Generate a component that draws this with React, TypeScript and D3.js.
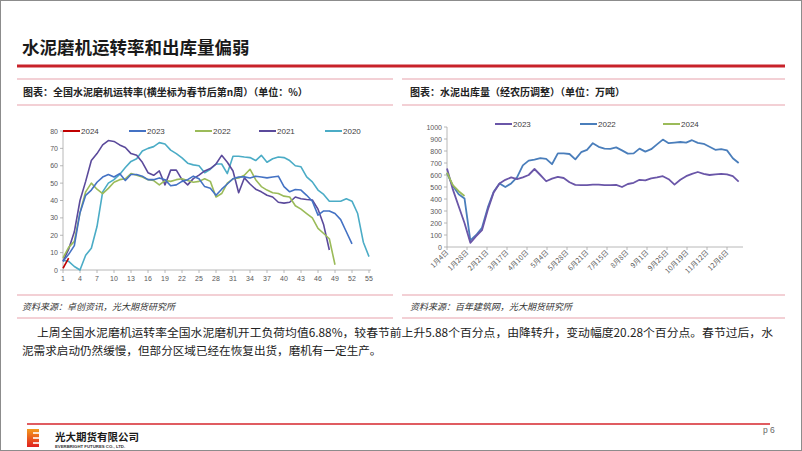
import React from "react";
import * as d3 from "d3";

// ---------- Left chart: cement mill operating rate (week n after Spring Festival) ----------
const rate2024 = [1.0, 6.88];
const rate2023 = [5, 9, 14, 33, 43, 46, 50.5, 53.5, 55, 53.5, 55.5, 51.5, 55, 55, 54, 52, 52, 53, 52, 48.5, 49, 51, 52, 54, 52.5, 48, 47, 43, 46.5, 49.5, 52.5, 53.5, 53.6, 53, 54, 53.5, 53, 53.5, 54, 48, 45, 46.3, 46, 43, 39.6, 31.6, 34, 34, 32.5, 29, 22, 15];
const rate2022 = [7, 13, 16.5, 33, 45, 50, 46.5, 44, 47, 50.5, 52, 52.5, 55.5, 54.5, 53.5, 52, 51.5, 49, 51.5, 51, 52, 52.5, 51.5, 50.5, 51, 52.5, 51, 42, 44, 50, 52.5, 53, 54.5, 58, 52, 48, 46, 44.5, 44, 42.5, 42, 37, 35, 32.5, 30, 24, 21, 18, 3];
const rate2021 = [5, 12, 22, 40, 51, 63, 67, 72, 74.5, 74, 72, 70.5, 67, 66, 62, 56, 54.5, 57, 49, 57.5, 57.5, 52, 49, 52.6, 54.6, 57, 58.4, 61, 66, 62, 57, 44.5, 53, 49.5, 46.5, 45, 43, 42, 39, 38.5, 39, 42, 41, 40.6, 40.3, 35, 26, 11.5];
const rate2020 = [5.5, 5, 2, 0, 8.5, 12.5, 25, 45, 50, 52, 55, 59, 62.5, 64, 68.5, 70, 71, 73.3, 72.5, 69, 67, 64.5, 61.5, 60.5, 60, 56, 58, 61, 61, 55.5, 65.5, 65.5, 65, 64.7, 63, 66, 62, 64, 65, 64.7, 63, 60, 59.4, 53.6, 50.7, 46, 43.5, 39.6, 39.6, 39.6, 41, 39.6, 32.5, 16, 7.7];
const leftYTicks = [0, 10, 20, 30, 40, 50, 60, 70, 80];
const leftXTicks = [1, 4, 7, 10, 13, 16, 19, 22, 25, 28, 31, 34, 37, 40, 43, 46, 49, 52, 55];
const leftSeriesNames = ["2024", "2023", "2022", "2021", "2020"];

// ---------- Right chart: cement shipments (lunar-calendar adjusted), weekly ----------
const ship2023 = [655, 480, 340, 200, 35, 90, 140, 310, 455, 530, 560, 580, 565, 580, 600, 650, 600, 548, 570, 585, 575, 540, 518, 515, 515, 520, 520, 515, 515, 518, 500, 525, 535, 560, 555, 572, 580, 590, 565, 520, 560, 590, 610, 625, 610, 600, 605, 610, 605, 590, 545];
const ship2022 = [615, 510, 440, 405, 55, 100, 160, 330, 460, 530, 500, 530, 580, 680, 720, 728, 740, 735, 690, 780, 780, 775, 730, 790, 810, 865, 835, 820, 818, 830, 805, 778, 780, 820, 795, 815, 855, 895, 865, 870, 875, 870, 890, 868, 860, 835, 810, 815, 805, 740, 700];
const ship2024 = [620, 515, 465, 425];
const rightYTicks = [0, 100, 200, 300, 400, 500, 600, 700, 800, 900, 1000];
const rightXLabels = ["1月4日", "1月28日", "2月21日", "3月17日", "4月10日", "5月4日", "5月28日", "6月21日", "7月15日", "8月8日", "9月1日", "9月25日", "10月19日", "11月12日", "12月6日"];
const rightSeriesNames = ["2023", "2022", "2024"];

const CJK = "'Noto Sans CJK SC', 'Noto Sans', sans-serif";
const LAT = "Arial, 'Liberation Sans', sans-serif";

export default function App() {
  // left scales
  const lx = d3.scaleLinear().domain([1, 55]).range([63, 369]);
  const ly = d3.scaleLinear().domain([0, 80]).range([270, 131]);
  const lline = d3.line<number>().x((_, i) => lx(i + 1)).y((d) => ly(d));
  const leftSeries = [
    { name: leftSeriesNames[4], data: rate2020, color: "#4bacc6", lx: 325 },
    { name: leftSeriesNames[3], data: rate2021, color: "#5b4a9b", lx: 259 },
    { name: leftSeriesNames[2], data: rate2022, color: "#9bbb59", lx: 195 },
    { name: leftSeriesNames[1], data: rate2023, color: "#4472c4", lx: 129 },
    { name: leftSeriesNames[0], data: rate2024, color: "#c00000", lx: 63 },
  ];

  // right scales (x in days, weekly points)
  const rx = d3.scaleLinear().domain([0, 24]).range([447, 467]);
  const ry = d3.scaleLinear().domain([0, 1000]).range([247, 127]);
  const rline = d3.line<number>().x((_, i) => rx(i * 7)).y((d) => ry(d));
  const rightSeries = [
    { name: rightSeriesNames[0], data: ship2023, color: "#6a56a8", lx: 495 },
    { name: rightSeriesNames[1], data: ship2022, color: "#4a7ebb", lx: 580 },
    { name: rightSeriesNames[2], data: ship2024, color: "#9bbb59", lx: 663 },
  ];

  const pink = "#e8a2ab";
  return (
    <div style={{ position: "absolute", left: 0, top: 0 }}>
      <svg width={802} height={451} xmlns="http://www.w3.org/2000/svg" style={{ display: "block" }}>
        <defs>
          <linearGradient id="logoG" x1="0" y1="0" x2="0" y2="1">
            <stop offset="0" stopColor="#f39a1e" />
            <stop offset="1" stopColor="#e0201f" />
          </linearGradient>
        </defs>
        <rect x={0} y={0} width={802} height={451} fill="#fff" />
        <rect x={0.5} y={0.5} width={801} height={450} fill="none" stroke="#8c8c8c" strokeWidth={1} />

        {/* title */}
        <text x={22} y={54} fontFamily={CJK} fontSize={17.5} fontWeight={700} fill="#1a1a1a">水泥磨机运转率和出库量偏弱</text>
        <line x1={17} x2={785} y1={66} y2={66} stroke="#c8222a" strokeWidth={3} />

        {/* panel frames */}
        {[
          [17, 393],
          [402, 785],
        ].map(([a, b], i) => (
          <g key={i}>
            <line x1={a} x2={b} y1={79} y2={79} stroke={pink} strokeWidth={1.2} />
            <line x1={a} x2={b} y1={105} y2={105} stroke={pink} strokeWidth={1.2} />
            <line x1={a} x2={b} y1={295} y2={295} stroke={pink} strokeWidth={1.2} />
            <line x1={a} x2={b} y1={318} y2={318} stroke={pink} strokeWidth={1.2} />
          </g>
        ))}
        <text x={23} y={96} fontFamily={CJK} fontSize={10} fontWeight={700} fill="#222">图表：全国水泥磨机运转率(横坐标为春节后第n周）（单位：%）</text>
        <text x={410} y={96} fontFamily={CJK} fontSize={10} fontWeight={700} fill="#222">图表：水泥出库量（经农历调整）（单位：万吨）</text>
        <text x={22} y={310} fontFamily={CJK} fontSize={9} fontStyle="italic" fill="#333">资料来源：卓创资讯，光大期货研究所</text>
        <text x={410} y={310} fontFamily={CJK} fontSize={9} fontStyle="italic" fill="#333">资料来源：百年建筑网，光大期货研究所</text>

        {/* ---------- left chart ---------- */}
        <g fontFamily={LAT} fontSize={7} fill="#595959">
          <line x1={lx(1)} x2={lx(1)} y1={ly(80)} y2={ly(0)} stroke="#a6a6a6" strokeWidth={0.8} />
          <line x1={lx(1)} x2={lx(55) + 2} y1={ly(0)} y2={ly(0)} stroke="#a6a6a6" strokeWidth={0.8} />
          {leftYTicks.map((t) => (
            <g key={t}>
              <line x1={lx(1) - 3} x2={lx(1)} y1={ly(t)} y2={ly(t)} stroke="#a6a6a6" strokeWidth={0.8} />
              <text x={lx(1) - 5} y={ly(t) + 2.5} textAnchor="end">{t}</text>
            </g>
          ))}
          {leftXTicks.map((t) => (
            <g key={t}>
              <line x1={lx(t)} x2={lx(t)} y1={ly(0)} y2={ly(0) + 3} stroke="#a6a6a6" strokeWidth={0.8} />
              <text x={lx(t)} y={ly(0) + 11} textAnchor="middle">{t}</text>
            </g>
          ))}
        </g>
        {leftSeries.map((s) => (
          <path key={s.name} d={lline(s.data) || ""} fill="none" stroke={s.color} strokeWidth={1.6} strokeLinejoin="round" />
        ))}
        <g fontFamily={LAT} fontSize={8} fill="#404040">
          {[...leftSeries].reverse().map((s) => (
            <g key={s.name}>
              <line x1={s.lx} x2={s.lx + 17} y1={131} y2={131} stroke={s.color} strokeWidth={2} />
              <text x={s.lx + 18} y={134}>{s.name}</text>
            </g>
          ))}
        </g>

        {/* ---------- right chart ---------- */}
        <g fontFamily={LAT} fontSize={7} fill="#595959">
          <line x1={rx(0)} x2={rx(0)} y1={ry(1000)} y2={ry(0)} stroke="#a6a6a6" strokeWidth={0.8} />
          <line x1={rx(0)} x2={743} y1={ry(0)} y2={ry(0)} stroke="#a6a6a6" strokeWidth={0.8} />
          {rightYTicks.map((t) => (
            <g key={t}>
              <line x1={rx(0) - 3} x2={rx(0)} y1={ry(t)} y2={ry(t)} stroke="#a6a6a6" strokeWidth={0.8} />
              <text x={rx(0) - 5} y={ry(t) + 2.5} textAnchor="end">{t}</text>
            </g>
          ))}
          {rightXLabels.map((lab, i) => {
            const x = rx(i * 24);
            return (
              <g key={lab}>
                <line x1={x} x2={x} y1={ry(0)} y2={ry(0) + 3} stroke="#a6a6a6" strokeWidth={0.8} />
                <text
                  transform={`translate(${x + 2},${ry(0) + 6}) rotate(-45)`}
                  textAnchor="end"
                  fontFamily={CJK}
                  fontSize={7}
                >
                  {lab}
                </text>
              </g>
            );
          })}
        </g>
        {[rightSeries[1], rightSeries[0], rightSeries[2]].map((s) => (
          <path key={s.name} d={rline(s.data) || ""} fill="none" stroke={s.color} strokeWidth={1.8} strokeLinejoin="round" />
        ))}
        <g fontFamily={LAT} fontSize={8} fill="#404040">
          {rightSeries.map((s) => (
            <g key={s.name}>
              <line x1={s.lx} x2={s.lx + 17} y1={124} y2={124} stroke={s.color} strokeWidth={2} />
              <text x={s.lx + 18} y={127}>{s.name}</text>
            </g>
          ))}
        </g>

        {/* paragraph */}
        <g fontFamily={CJK} fontSize={11.6} fill="#222">
          <text x={37} y={337} textLength={736} lengthAdjust="spacingAndGlyphs">上周全国水泥磨机运转率全国水泥磨机开工负荷均值6.88%，较春节前上升5.88个百分点，由降转升，变动幅度20.28个百分点。春节过后，水</text>
          <text x={22} y={355}>泥需求启动仍然缓慢，但部分区域已经在恢复出货，磨机有一定生产。</text>
        </g>

        {/* footer */}
        <line x1={27} x2={770} y1={424} y2={424} stroke="#d6262d" strokeWidth={1.5} />
        <g>
          <rect x={27} y={429} width={12} height={18} fill="url(#logoG)" />
          <rect x={33} y={432} width={6} height={2} fill="#fff" opacity={0.8} />
          <rect x={33} y={437} width={6} height={2} fill="#fff" opacity={0.8} />
          <rect x={33} y={442} width={6} height={2} fill="#fff" opacity={0.8} />
        </g>
        <text x={55} y={441} fontFamily={CJK} fontSize={10.5} fontWeight={700} fill="#1a1a1a">光大期货有限公司</text>
        <text x={55} y={448} fontFamily={LAT} fontSize={4.3} fontWeight={700} fill="#333">EVERBRIGHT FUTURES CO., LTD.</text>
        <text x={763} y={433} fontFamily={LAT} fontSize={8.5} fill="#666">p 6</text>
      </svg>
    </div>
  );
}
